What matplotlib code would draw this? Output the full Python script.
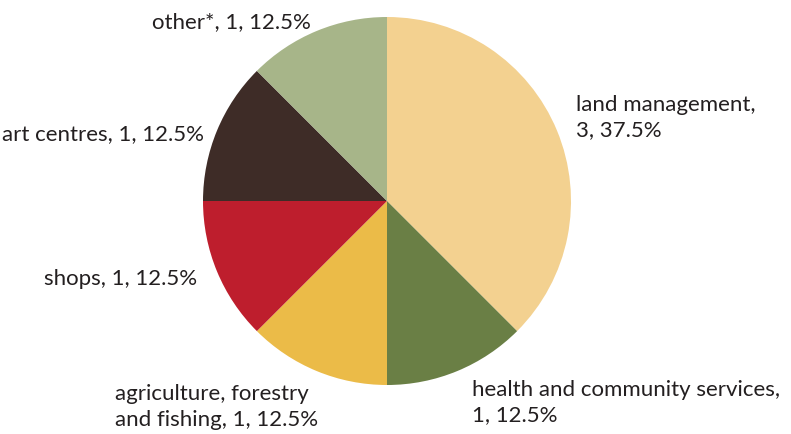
import numpy as np
import matplotlib.pyplot as plt

categories = ["land management", "health and community services", "agriculture, forestry\nand fishing",
              "shops", "art centres", "other*"]
counts = [3, 1, 1, 1, 1, 1]
colours = ["#F3D190", "#6A7F45", "#EBBB48", "#BE1E2D", "#3E2C27", "#A7B589"]

total = sum(counts)
labels = []
for c, n in zip(categories, counts):
    pct = 100.0 * n / total
    if c in ("land management", "health and community services"):
        labels.append(f"{c},\n{n}, {pct:.1f}%")
    else:
        labels.append(f"{c}, {n}, {pct:.1f}%")

# label anchor in pixels (x, y from top) and horizontal alignment
label_px = [(576, 118, "left"), (472, 403, "left"), (115, 407, "left"),
            (197, 279, "right"), (204, 134, "right"), (311, 22, "right")]

fig = plt.figure(figsize=(7.91, 4.35), dpi=100)
ax = fig.add_axes([0, 0, 1, 1])

wedges, _ = ax.pie(counts, colors=colours, startangle=90, counterclock=False,
                   wedgeprops=dict(linewidth=0))

# pie centre at (387, 202) px, radius 184 px
r = 184.0
cx, cy = 387, 202
for lab, (px, py, ha) in zip(labels, label_px):
    ax.text((px - cx) / r, (cy - py) / r, lab, ha=ha, va="center", multialignment="left",
            fontsize=16, color="#231F20", family="Lato", linespacing=1.32)

ax.set_xlim(-cx / r, (791 - cx) / r)
ax.set_ylim(-(435 - cy) / r, cy / r)
ax.set_aspect("auto")
ax.axis("off")

fig.savefig("out.png", dpi=100)
